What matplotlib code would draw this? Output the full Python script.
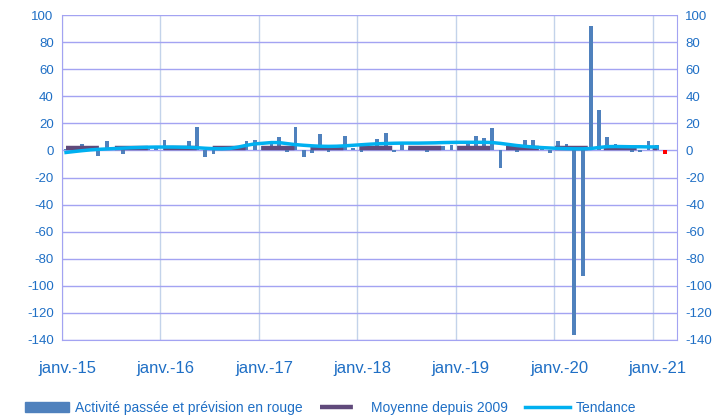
import numpy as np
import pandas as pd
import matplotlib
matplotlib.use("Agg")
import matplotlib.pyplot as plt
from matplotlib.patches import Patch
from matplotlib.lines import Line2D
from matplotlib.transforms import ScaledTranslation

plt.rcParams['font.family'] = ['Liberation Sans', 'DejaVu Sans']
plt.rcParams['axes.unicode_minus'] = False

# monthly values, janv.-15 .. janv.-21
activite = [1, 2, 5, 1, -4, 7, 1, -3, 2, 2, 1, 2,            # 2015
            7.5, 2, 2, 7, 17, -5, -3, 1, 1, 2.5, 7, 7.5,     # 2016
            3, 7, 10, -1, 17, -5, -2, 12, -1, 2, 10.5, 2,    # 2017
            -1, 2, 8.5, 13, -1, 6, 2, 1, -1, 2, 3, 4,        # 2018
            2, 7, 10.5, 9, 16.5, -13, 2, -1, 8, 8, 1, -2,    # 2019
            7, 5, -136, -93, 92, 30, 10, 5, 1, -1, -1, 7,    # 2020
            4]                                               # 2021
prevision = [-3]   # févr.-21, in red
moyenne = [2.1] * 73
tendance = [-1.5, -0.8, -0.2, 0.4, 0.8, 1.1, 1.4, 1.7, 2.0, 2.2, 2.4, 2.5,
            2.5, 2.5, 2.4, 2.3, 2.0, 1.6, 1.3, 1.2, 1.5, 2.5, 3.8, 4.8,
            5.3, 5.8, 5.8, 5.0, 4.3, 3.8, 3.4, 3.1, 3.0, 3.1, 3.4, 3.8,
            4.2, 4.6, 4.9, 5.1, 5.3, 5.4, 5.4, 5.4, 5.5, 5.6, 5.8, 5.9,
            6.0, 6.0, 6.0, 6.0, 5.8, 5.2, 4.4, 3.6, 3.0, 2.5, 2.1, 1.8,
            1.5, 1.3, 1.2, 1.2, 1.4, 2.2, 2.8, 2.9, 2.8, 2.7, 2.7, 2.6,
            2.6]
tick_labels = ['janv.-15', 'janv.-16', 'janv.-17', 'janv.-18',
               'janv.-19', 'janv.-20', 'janv.-21']

months = pd.date_range('2015-01-01', periods=len(activite), freq='MS') + pd.Timedelta(days=15)
prev_months = pd.date_range('2021-02-01', periods=len(prevision), freq='MS') + pd.Timedelta(days=15)
ticks = pd.date_range('2015-01-01', '2021-01-01', freq='YS')

label_col = '#1F6FC5'
grid_h = '#A3A3F2'
grid_v = '#C3D3EA'
dash = (7.4, 3.6)

fig = plt.figure(figsize=(7.2, 4.16), dpi=100)
ax = fig.add_axes([0.0861, 0.1827, 0.8542, 0.7812])

ax.bar(months, activite, width=14, color='#4F81BD', zorder=3)
ax.bar(prev_months, prevision, width=14, color='#FF0000', zorder=3)
ax.plot(months, moyenne, color='#604A7B', lw=3.2, dashes=dash,
        dash_capstyle='butt', zorder=4)
ax.plot(months, tendance, color='#00B0F0', lw=2.5, zorder=5)

ax.set_ylim(-140, 100)
ax.set_yticks(np.arange(-140, 101, 20))
ax.set_xlim(pd.Timestamp('2015-01-01'), pd.Timestamp('2021-04-01'))
ax.set_xticks(ticks)
ax.set_xticklabels(tick_labels)

ax.grid(axis='y', color=grid_h, lw=1, zorder=0)
ax.grid(axis='x', color=grid_v, lw=1, zorder=0)
ax.spines['top'].set_visible(False)
for s in ['left', 'right', 'bottom']:
    ax.spines[s].set_color(grid_h)

ax.tick_params(axis='y', length=0, labelsize=9.5, labelcolor=label_col, pad=6,
               labelright=True)
ax.tick_params(axis='x', length=0, labelsize=12, labelcolor=label_col, pad=15)
# labels sit a little right of the gridlines, as in the original
shift = ScaledTranslation(5 / 100, 0, fig.dpi_scale_trans)
for lab in ax.get_xticklabels():
    lab.set_transform(lab.get_transform() + shift)

handles = [Patch(color='#4F81BD'),
           Line2D([0], [0], color='#604A7B', lw=3.2, dashes=dash, dash_capstyle='butt'),
           Line2D([0], [0], color='#00B0F0', lw=2.5)]
labels = ['Activité passée et prévision en rouge', 'Moyenne depuis 2009', 'Tendance']
leg = fig.legend(handles, labels, loc='center', bbox_to_anchor=(0.459, 0.02),
                 ncol=3, frameon=False, fontsize=10, handlelength=3.2,
                 columnspacing=1.25, handletextpad=0.45)
for t in leg.get_texts():
    t.set_color(label_col)

fig.savefig('out.png', dpi=100)
